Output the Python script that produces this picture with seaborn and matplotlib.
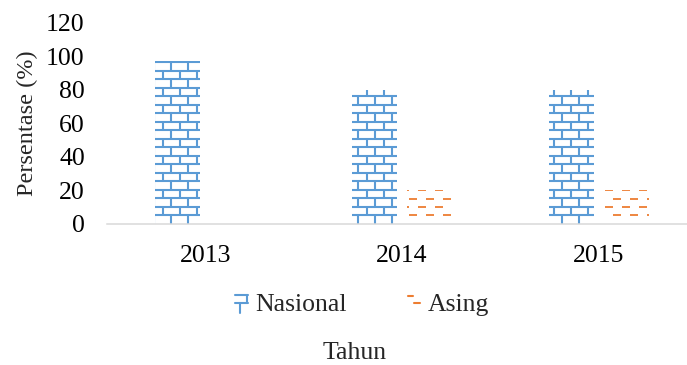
import numpy as np
import pandas as pd
import matplotlib
matplotlib.use("Agg")
import matplotlib.pyplot as plt
import seaborn as sns
from matplotlib.collections import LineCollection
from matplotlib.transforms import IdentityTransform
from matplotlib.legend_handler import HandlerBase
from matplotlib.lines import Line2D
from matplotlib.patches import Patch

# Data
years = ["2013", "2014", "2015"]
nasional = [97, 80, 80]
asing = [0, 20, 20]
series = ["Nasional", "Asing"]
y_ticks = [0, 20, 40, 60, 80, 100, 120]

BLUE = "#5b9bd5"
ORANGE = "#ed7d31"
AXIS_GRAY = "#d9d9d9"
FS = 18.5

df = pd.DataFrame({
    "Tahun": years * 2,
    "Persentase": nasional + asing,
    "Kategori": [series[0]] * len(years) + [series[1]] * len(years),
})

sns.set_theme(style="white")
plt.rcParams["font.family"] = ["Liberation Serif", "DejaVu Serif"]

W, H = 687, 365
fig = plt.figure(figsize=(W / 100, H / 100), dpi=100)
ax_left, ax_right, ax_bottom, ax_top = 107, 697, 223.7, 22.7
ax = fig.add_axes([ax_left / W, (H - ax_bottom) / H,
                   (ax_right - ax_left) / W, (ax_bottom - ax_top) / H])

sns.barplot(data=df, x="Tahun", y="Persentase", hue="Kategori",
            hue_order=series, palette=["white", "white"], saturation=1,
            width=0.56, gap=0.18, linewidth=0, legend=False, ax=ax)

ax.set_xlim(-0.5, len(years) - 0.5)
ax.set_ylim(0, 120)
ax.set_yticks(y_ticks)
ax.set_xlabel("")
ax.set_ylabel("")

for s in ("left", "right", "top"):
    ax.spines[s].set_visible(False)
ax.spines["bottom"].set_color(AXIS_GRAY)
ax.spines["bottom"].set_linewidth(1.1)

ax.tick_params(axis="y", length=0, pad=16, labelsize=FS, colors="black")
ax.tick_params(axis="x", which="major", length=0, pad=15, labelsize=FS, colors="black")
ax.set_xticks(np.arange(-0.5, len(years)), minor=True)
ax.tick_params(axis="x", which="minor", length=5, width=1.1, color=AXIS_GRAY)

# Fill patterns drawn in pixel space and clipped to each bar
base_y = H - ax_bottom  # display y of the baseline
row_h = 8.5
period = 17.0


def brick_segments(x0, x1, y_top):
    segs = []
    k = 0
    y = base_y
    while y < y_top + row_h:
        if k > 0:
            segs.append([(x0 - 2, y), (x1 + 2, y)])
        phase = 1.0 + (period / 2 if k % 2 else 0.0)
        start = phase + period * np.floor((x0 - phase) / period)
        for x in np.arange(start, x1 + period, period):
            segs.append([(x, y), (x, y + row_h)])
        y += row_h
        k += 1
    return segs


def dash_segments(x0, x1, y_top, dash=8.0, step=8.3):
    segs = []
    k = 1
    y = base_y + step
    while y < y_top + step:
        phase = 1.0 + (period / 2 if k % 2 == 0 else 0.0)
        start = phase + period * np.floor((x0 - phase) / period)
        for x in np.arange(start, x1 + period, period):
            segs.append([(x, y), (x + dash, y)])
        y += step
        k += 1
    return segs


fig.canvas.draw()
for container, kind in zip(ax.containers, series):
    for bar in container:
        if bar.get_height() <= 0:
            continue
        (x0, y0), (x1, y1) = ax.transData.transform(
            [(bar.get_x(), 0), (bar.get_x() + bar.get_width(), bar.get_height())])
        if kind == "Nasional":
            lc = LineCollection(brick_segments(x0, x1, y1), colors=BLUE,
                                linewidths=1.5, transform=IdentityTransform())
        else:
            lc = LineCollection(dash_segments(x0, x1, y1), colors=ORANGE,
                                linewidths=1.3, transform=IdentityTransform())
        ax.add_collection(lc, autolim=False)
        lc.set_clip_path(bar)


class BrickHandler(HandlerBase):
    def create_artists(self, legend, orig_handle, xdescent, ydescent,
                       width, height, fontsize, trans):
        x0, y0 = -xdescent, -ydescent
        lw = 1.5
        pts = [
            ([x0, x0 + width], [y0 + height * 0.9, y0 + height * 0.9]),
            ([x0 + width * 0.9, x0 + width * 0.9], [y0 + height * 0.9, y0 + height * 0.45]),
            ([x0, x0 + width], [y0 + height * 0.45, y0 + height * 0.45]),
            ([x0 + width * 0.35, x0 + width * 0.35], [y0 + height * 0.45, y0 - height * 0.1]),
        ]
        return [Line2D(xs, ys, color=BLUE, lw=lw, transform=trans) for xs, ys in pts]


class DashHandler(HandlerBase):
    def create_artists(self, legend, orig_handle, xdescent, ydescent,
                       width, height, fontsize, trans):
        x0, y0 = -xdescent, -ydescent
        pts = [
            ([x0, x0 + width * 0.4], [y0 + height * 0.85, y0 + height * 0.85]),
            ([x0 + width * 0.5, x0 + width], [y0 + height * 0.45, y0 + height * 0.45]),
        ]
        return [Line2D(xs, ys, color=ORANGE, lw=1.5, transform=trans) for xs, ys in pts]


h_nas = Patch(facecolor="white", label=series[0])
h_asg = Patch(facecolor="white", label=series[1])
fig.legend(handles=[h_nas, h_asg], labels=series, loc="center",
           bbox_to_anchor=(362 / W, 1 - 305 / H), ncol=2, frameon=False,
           fontsize=FS, handlelength=0.5, handleheight=0.65, handletextpad=0.27,
           columnspacing=2.37,
           handler_map={h_nas: BrickHandler(), h_asg: DashHandler()})

fig.text(355 / W, 1 - 353 / H, "Tahun", ha="center", va="center", fontsize=FS)
fig.text(27 / W, 1 - 123 / H, "Persentase (%)", ha="center", va="center",
         rotation=90, fontsize=17.5)

fig.savefig("out.png", dpi=100, facecolor="white")
